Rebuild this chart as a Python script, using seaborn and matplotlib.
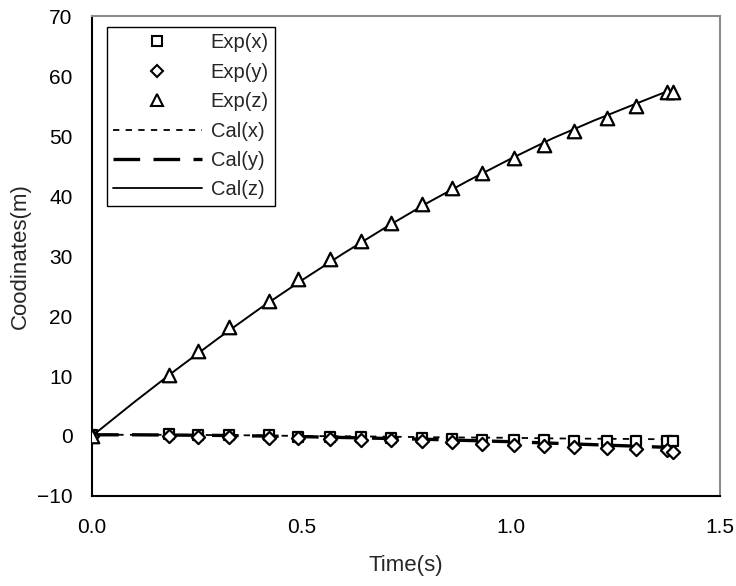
import numpy as np
import pandas as pd
import matplotlib
matplotlib.use("Agg")
import matplotlib.pyplot as plt
from matplotlib.lines import Line2D
import seaborn as sns

# Measured trajectory (experiment)
t_exp = [0.0, 0.184, 0.253, 0.327, 0.423, 0.492, 0.568, 0.643, 0.714, 0.788,
         0.860, 0.932, 1.008, 1.080, 1.151, 1.230, 1.299, 1.373, 1.388]
x_exp = [0.1, 0.3, 0.2, 0.1, 0.2, -0.1, -0.1, -0.2, -0.3, -0.4,
         -0.5, -0.6, -0.7, -0.7, -0.8, -0.8, -0.8, -0.9, -0.9]
y_exp = [0.0, 0.0, -0.1, -0.2, -0.3, -0.4, -0.5, -0.6, -0.7, -0.9,
         -1.0, -1.3, -1.5, -1.6, -1.8, -2.0, -2.2, -2.4, -2.7]
z_exp = [0.0, 10.2, 14.2, 18.2, 22.5, 26.2, 29.5, 32.5, 35.5, 38.7,
         41.3, 43.8, 46.3, 48.5, 50.8, 53.0, 55.0, 57.3, 57.3]

# Computed trajectory (simulation)
t_cal = [0.0, 0.1, 0.2, 0.3, 0.4, 0.5, 0.6, 0.7, 0.8, 0.9,
         1.0, 1.1, 1.2, 1.3, 1.376]
x_cal = [0.2, 0.2, 0.2, 0.15, 0.1, 0.0, -0.05, -0.1, -0.2, -0.25,
         -0.3, -0.4, -0.45, -0.5, -0.55]
y_cal = [0.2, 0.2, 0.15, 0.1, 0.0, -0.1, -0.25, -0.4, -0.55, -0.75,
         -0.95, -1.2, -1.45, -1.7, -1.9]
z_cal = [0.0, 5.6, 11.0, 16.2, 21.2, 25.9, 30.4, 34.7, 38.8, 42.6,
         46.2, 49.6, 52.6, 55.4, 57.5]

exp = pd.DataFrame({"t": t_exp * 3,
                    "v": x_exp + y_exp + z_exp,
                    "s": ["Exp(x)"] * len(t_exp) + ["Exp(y)"] * len(t_exp) + ["Exp(z)"] * len(t_exp)})
cal = pd.DataFrame({"t": t_cal * 3,
                    "v": x_cal + y_cal + z_cal,
                    "s": ["Cal(x)"] * len(t_cal) + ["Cal(y)"] * len(t_cal) + ["Cal(z)"] * len(t_cal)})

sns.set_style("white")
plt.rcParams["font.family"] = ["Liberation Sans", "DejaVu Sans"]
plt.rcParams["axes.unicode_minus"] = True

fig = plt.figure(figsize=(7.36, 5.86), dpi=100)
ax = fig.add_axes([0.125, 0.1536, 0.853, 0.819])

line_styles = {"Cal(x)": (0, (3.5, 3.5)), "Cal(y)": (0, (8, 4)), "Cal(z)": "-"}
line_widths = {"Cal(x)": 1.3, "Cal(y)": 2.4, "Cal(z)": 1.4}
for name, grp in cal.groupby("s", sort=False):
    sns.lineplot(data=grp, x="t", y="v", ax=ax, color="black",
                 linestyle=line_styles[name], linewidth=line_widths[name],
                 legend=False, sort=False, zorder=2)

marker_map = {"Exp(x)": "s", "Exp(y)": "D", "Exp(z)": "^"}
size_map = {"Exp(x)": 60, "Exp(y)": 45, "Exp(z)": 95}
for name, grp in exp.groupby("s", sort=False):
    sns.scatterplot(data=grp, x="t", y="v", ax=ax, marker=marker_map[name],
                    s=size_map[name], facecolor="white", edgecolor="black",
                    linewidth=1.6, legend=False, zorder=3)

ax.set_xlim(0, 1.5)
ax.set_ylim(-10, 70)
ax.set_xticks([0.0, 0.5, 1.0, 1.5])
ax.set_xticklabels(["0.0", "0.5", "1.0", "1.5"])
ax.set_yticks(range(-10, 71, 10))
ax.set_yticklabels(["\u221210"] + [str(v) for v in range(0, 71, 10)])
ax.tick_params(axis="both", direction="in", length=7, width=1.0, colors="black",
               labelsize=15)
ax.tick_params(axis="x", pad=16)
ax.tick_params(axis="y", pad=14)
ax.set_xlabel("Time(s)", fontsize=16, labelpad=13)
ax.set_ylabel("Coodinates(m)", fontsize=16, labelpad=4)

for side in ["left", "bottom"]:
    ax.spines[side].set_color("black")
    ax.spines[side].set_linewidth(1.5)
for side in ["top", "right"]:
    ax.spines[side].set_color("#8c8c8c")
    ax.spines[side].set_linewidth(1.5)

handles = [
    Line2D([], [], linestyle="none", marker="s", markersize=7, markerfacecolor="white",
           markeredgecolor="black", markeredgewidth=1.5, label="Exp(x)"),
    Line2D([], [], linestyle="none", marker="D", markersize=6, markerfacecolor="white",
           markeredgecolor="black", markeredgewidth=1.5, label="Exp(y)"),
    Line2D([], [], linestyle="none", marker="^", markersize=9, markerfacecolor="white",
           markeredgecolor="black", markeredgewidth=1.5, label="Exp(z)"),
    Line2D([], [], color="black", linestyle=line_styles["Cal(x)"], linewidth=1.3, label="Cal(x)"),
    Line2D([], [], color="black", linestyle=line_styles["Cal(y)"], linewidth=2.4, label="Cal(y)"),
    Line2D([], [], color="black", linestyle="-", linewidth=1.3, label="Cal(z)"),
]
leg = ax.legend(handles=handles, loc="upper left", bbox_to_anchor=(0.024, 0.977),
                fontsize=14.5, frameon=True, fancybox=False, framealpha=1,
                edgecolor="black", handlelength=4.4, handletextpad=0.45,
                labelspacing=0.52, borderpad=0.3, borderaxespad=0)
leg.get_frame().set_linewidth(1.0)

fig.savefig("out.png", dpi=100)
